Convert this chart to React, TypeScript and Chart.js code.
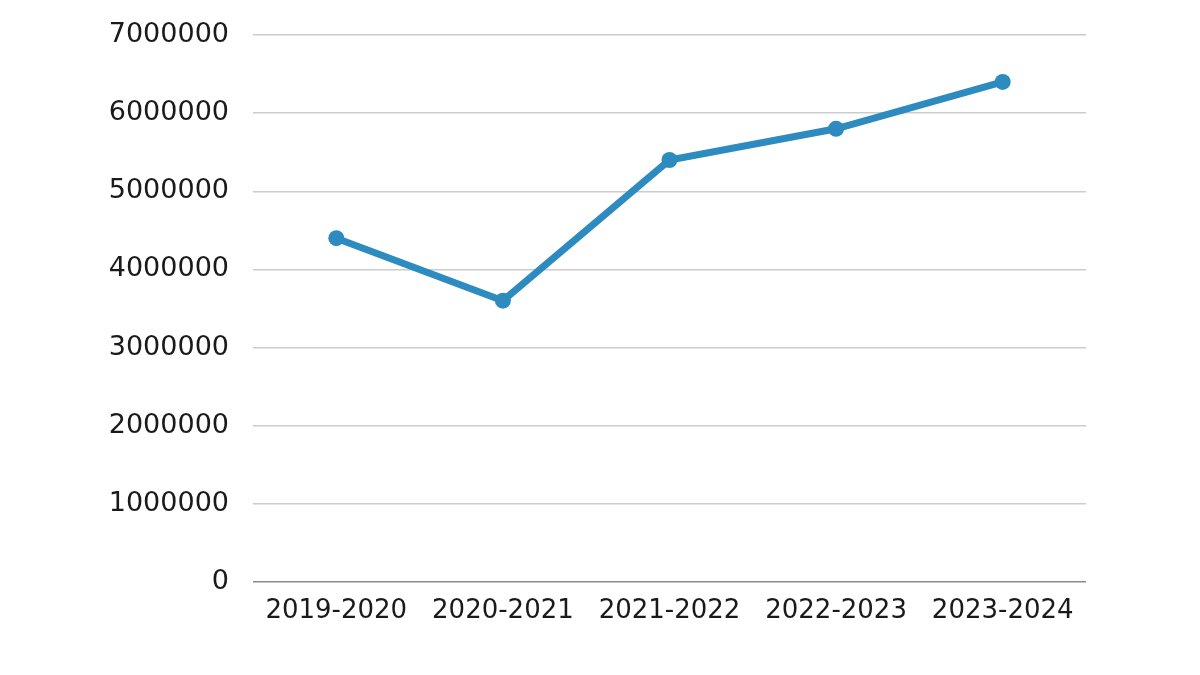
import React, { useEffect, useRef } from "react";
import { Chart, registerables } from "chart.js";

Chart.register(...registerables);

const categories = ["2019-2020", "2020-2021", "2021-2022", "2022-2023", "2023-2024"];
const values = [4400000, 3600000, 5400000, 5800000, 6400000];
const yMin = 0;
const yMax = 7000000;
const yStep = 1000000;

export default function App() {
  const ref = useRef<HTMLCanvasElement | null>(null);
  useEffect(() => {
    if (!ref.current) return;
    const chart = new Chart(ref.current, {
      type: "line",
      data: {
        labels: categories,
        datasets: [
          {
            data: values,
            borderColor: "#2E8BBF",
            backgroundColor: "#2E8BBF",
            borderWidth: 7,
            pointRadius: 8,
            pointHoverRadius: 8,
            pointBackgroundColor: "#2E8BBF",
            pointBorderWidth: 0,
            tension: 0,
            fill: false,
          },
        ],
      },
      options: {
        animation: false,
        responsive: false,
        maintainAspectRatio: false,
        layout: { padding: { top: 35, right: 114, bottom: 0, left: 0 } },
        plugins: { legend: { display: false }, tooltip: { enabled: false } },
        scales: {
          x: {
            offset: true,
            grid: { display: false },
            border: { display: false },
            ticks: {
              color: "#1a1a1a",
              font: { family: "DejaVu Sans", size: 26 },
              padding: 6,
              maxRotation: 0,
            },
            afterFit: (s: any) => {
              s.height = 93;
            },
          },
          y: {
            min: yMin,
            max: yMax,
            ticks: {
              stepSize: yStep,
              color: "#1a1a1a",
              font: { family: "DejaVu Sans", size: 27 },
              padding: 0,
              callback: (v: any) => String(v),
            },
            grid: {
              color: (ctx: any) => (ctx.tick && ctx.tick.value === 0 ? "#8a8a8a" : "#cccccc"),
              lineWidth: 1.5,
              drawTicks: true,
              tickLength: 24,
              tickColor: "rgba(0,0,0,0)",
            },
            border: { display: false },
            afterFit: (s: any) => {
              s.width = 253;
            },
          },
        },
      },
    });
    return () => chart.destroy();
  }, []);
  return (
    <div style={{ position: "absolute", left: 0, top: 0, width: 1200, height: 675, background: "#fff" }}>
      <canvas ref={ref} width={1200} height={675} style={{ width: 1200, height: 675 }} />
    </div>
  );
}
